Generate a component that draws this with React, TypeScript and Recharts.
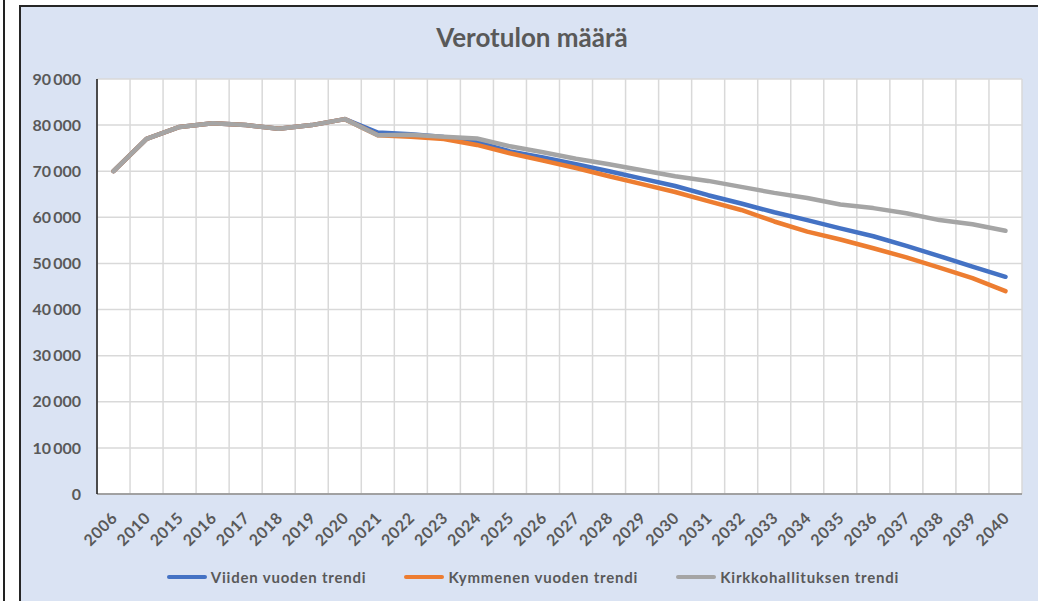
import React from "react";
import {
  LineChart,
  Line,
  XAxis,
  YAxis,
  CartesianGrid,
} from "recharts";

const FONT = "Lato, 'Open Sans', sans-serif";
const TEXT = "#595959";

const years = [
  "2006", "2010", "2015", "2016", "2017", "2018", "2019", "2020", "2021", "2022",
  "2023", "2024", "2025", "2026", "2027", "2028", "2029", "2030", "2031", "2032",
  "2033", "2034", "2035", "2036", "2037", "2038", "2039", "2040",
];

// Viiden vuoden trendi
const viiden = [
  70000, 77000, 79600, 80400, 80000, 79200, 80000, 81300, 78400, 78000,
  77400, 76300, 74300, 73000, 71500, 70000, 68400, 66800, 64800, 63000,
  61100, 59400, 57600, 55900, 53800, 51600, 49300, 47100,
];

// Kymmenen vuoden trendi
const kymmenen = [
  70000, 77000, 79600, 80400, 80000, 79200, 80000, 81300, 77800, 77500,
  77000, 75700, 73900, 72300, 70700, 68900, 67200, 65500, 63500, 61600,
  59100, 56900, 55200, 53300, 51300, 49100, 46800, 44000,
];

// Kirkkohallituksen trendi
const kirkko = [
  70000, 77000, 79600, 80400, 80000, 79200, 80000, 81300, 77800, 77900,
  77500, 77100, 75400, 74100, 72700, 71500, 70200, 68900, 67900, 66600,
  65300, 64200, 62800, 62000, 60900, 59400, 58500, 57100,
];

const yTicks = [0, 10000, 20000, 30000, 40000, 50000, 60000, 70000, 80000, 90000];

const series = [
  { key: "viiden", name: "Viiden vuoden trendi", color: "#4472c4" },
  { key: "kymmenen", name: "Kymmenen vuoden trendi", color: "#ed7d31" },
  { key: "kirkko", name: "Kirkkohallituksen trendi", color: "#a5a5a5" },
];

const data = years.map((year, i) => ({
  year,
  viiden: viiden[i],
  kymmenen: kymmenen[i],
  kirkko: kirkko[i],
}));

const fmt = (v: number) => v.toLocaleString("fi-FI").replace(/\s/g, "\u2009");

// eslint-disable-next-line @typescript-eslint/no-explicit-any
function YearTick({ x, y, payload }: any) {
  return (
    <g transform={`translate(${x + 5},${y + 17})`}>
      <text
        textAnchor="end"
        transform="rotate(-45)"
        fill={TEXT}
        fontSize={16}
        fontWeight={700}
        fontFamily={FONT}
        letterSpacing={0.6}
      >
        {payload.value}
      </text>
    </g>
  );
}

export default function App() {
  return (
    <div style={{ position: "absolute", left: 0, top: 0, width: 1038, height: 601, background: "#fff", overflow: "hidden" }}>
      {/* neighbouring frame edge */}
      <div style={{ position: "absolute", left: 3, top: 0, width: 1.5, height: 601, background: "#222" }} />

      {/* chart box */}
      <div
        style={{
          position: "absolute",
          left: 19,
          top: 5,
          width: 1030,
          height: 610,
          background: "#dae3f3",
          borderTop: "2px solid #262626",
          borderLeft: "2px solid #262626",
        }}
      />

      <div
        style={{
          position: "absolute",
          left: 20,
          width: 1024,
          top: 23,
          textAlign: "center",
          fontFamily: FONT,
          fontWeight: 700,
          fontSize: 26,
          lineHeight: "28px",
          color: TEXT,
        }}
      >
        Verotulon määrä
      </div>

      <div style={{ position: "absolute", left: 0, top: 0 }}>
        <LineChart width={1038} height={601} data={data} margin={{ top: 79, right: 16, bottom: 57, left: 0 }}>
          <CartesianGrid
            stroke="#d9d9d9"
            strokeWidth={1.5}
            fill="#ffffff"
            fillOpacity={1}
            verticalCoordinatesGenerator={({ offset }: any) =>
              Array.from({ length: years.length + 1 }, (_, i) => offset.left + (i * offset.width) / years.length)
            }
          />
          <XAxis
            dataKey="year"
            scale="band"
            interval={0}
            height={50}
            tickLine={false}
            axisLine={{ stroke: "#8c8c8c", strokeWidth: 1.5 }}
            tick={<YearTick />}
          />
          <XAxis
            xAxisId="top"
            dataKey="year"
            orientation="top"
            height={0}
            tick={false}
            tickLine={false}
            axisLine={{ stroke: "#1a1a1a", strokeWidth: 1.5 }}
          />
          <YAxis
            width={97}
            domain={[0, 90000]}
            ticks={yTicks}
            interval={0}
            tickLine={false}
            tickSize={6}
            tickMargin={10}
            axisLine={{ stroke: "#1a1a1a", strokeWidth: 1.5 }}
            tick={{ fill: TEXT, fontSize: 16, fontWeight: 700, fontFamily: FONT }}
            tickFormatter={fmt}
          />
          <YAxis
            yAxisId="right"
            orientation="right"
            width={0}
            domain={[0, 90000]}
            tick={false}
            tickLine={false}
            axisLine={{ stroke: "#1a1a1a", strokeWidth: 1.5 }}
          />
          {series.map((s) => (
            <Line
              key={s.key}
              type="linear"
              dataKey={s.key}
              name={s.name}
              stroke={s.color}
              strokeWidth={4.5}
              strokeLinecap="round"
              strokeLinejoin="round"
              dot={false}
              activeDot={false}
              isAnimationActive={false}
            />
          ))}
        </LineChart>
      </div>

      {/* legend */}
      <div
        style={{
          position: "absolute",
          left: 20,
          width: 1026,
          top: 568,
          display: "flex",
          justifyContent: "center",
          gap: 38,
          fontFamily: FONT,
          fontWeight: 700,
          fontSize: 15,
          letterSpacing: 0.8,
          color: TEXT,
        }}
      >
        {series.map((s) => (
          <div key={s.key} style={{ display: "flex", alignItems: "center", gap: 4 }}>
            <div style={{ width: 40, height: 4.5, borderRadius: 2, background: s.color }} />
            <span style={{ lineHeight: "18px" }}>{s.name}</span>
          </div>
        ))}
      </div>
    </div>
  );
}
